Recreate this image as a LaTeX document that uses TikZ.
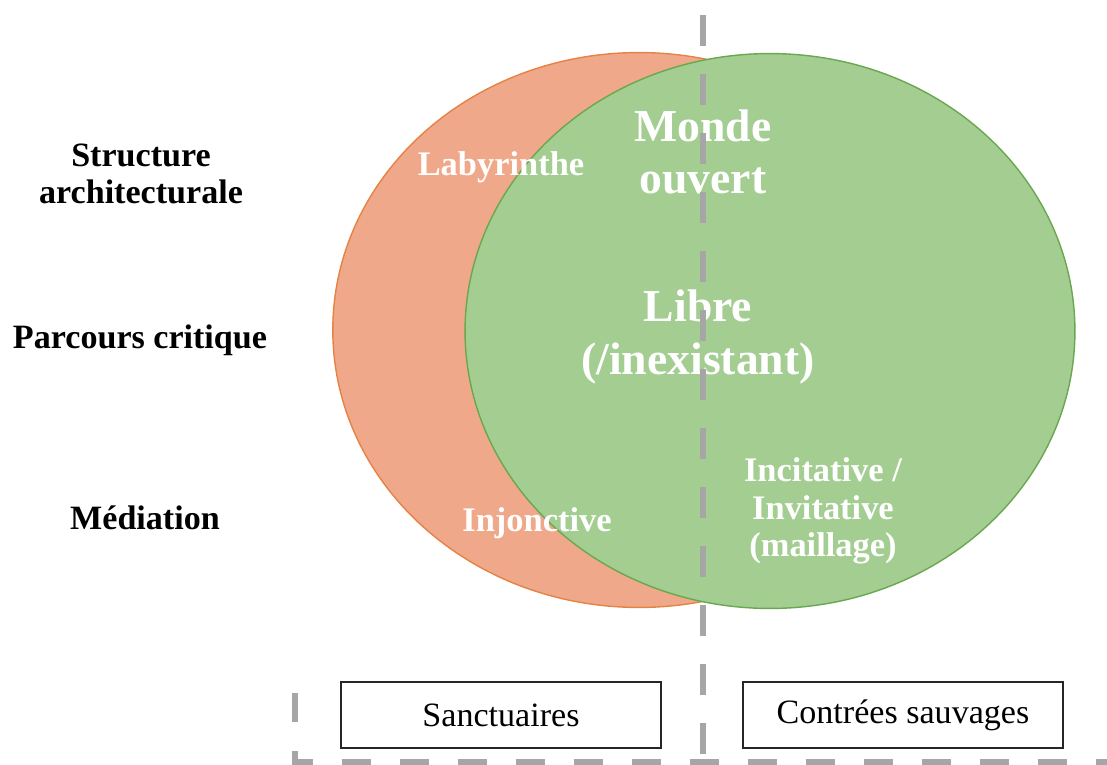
\documentclass[tikz,border=0pt]{standalone}
\usepackage{fontspec}
\setmainfont{Liberation Serif}
\usetikzlibrary{shapes.geometric, positioning}

\definecolor{salmon}{RGB}{239,169,138}
\definecolor{salmonline}{RGB}{229,130,68}
\definecolor{leaf}{RGB}{164,205,146}
\definecolor{leafline}{RGB}{106,168,79}
\definecolor{divgray}{RGB}{166,166,166}

\begin{document}
\begin{tikzpicture}[
  x=0.02cm, y=-0.02cm,
  set/.style={ellipse, draw, line width=0.8pt, inner sep=0pt, minimum width=12.25cm, minimum height=11.1cm},
  rowlabel/.style={align=center, font=\fontsize{19.4}{21.5}\selectfont\bfseries},
  inlabel/.style={align=center, text=white, font=\fontsize{19.6}{21.5}\selectfont\bfseries},
  biglabel/.style={align=center, text=white, font=\fontsize{26}{30}\selectfont\bfseries},
  zone/.style={rectangle, draw=black!85, line width=1pt, minimum width=6.4cm, minimum height=1.32cm, font=\fontsize{19.4}{21}\selectfont},
  divider/.style={draw=divgray, line width=0.12cm, dash pattern=on 0.62cm off 0.56cm}
]
  \useasboundingbox (0,0) rectangle (1107,765);

  \node[set, fill=salmon, draw=salmonline] (sanct) at (639,330) {};
  \node[set, fill=leaf, draw=leafline, minimum width=12.2cm] (wild) at (770,331) {};

  \node[rowlabel] (structure) at (141,174) {Structure\\architecturale};
  \node[rowlabel] (parcours) at (140,340) {Parcours critique};
  \node[rowlabel] (mediation) at (145,518) {Médiation};

  \node[inlabel] (laby) at (501,167) {Labyrinthe};
  \node[biglabel] (monde) at (703,152) {Monde\\ouvert};
  \node[biglabel] (libre) at (698,337) {Libre\\(/inexistant)};
  \node[inlabel] (injonc) at (537,523) {Injonctive};
  \node[inlabel] (incit) at (823,511) {Incitative /\\Invitative\\(maillage)};

  \node[zone] (sanctuaires) at (501,715) {Sanctuaires};
  \node[zone] (contrees) at (903,715) {Contrées sauvages};

  \coordinate (divtop) at (703,15);
  \coordinate (divbot) at (703,765);
  \coordinate (frameleft) at (295,693);
  \coordinate (framecorner) at (295,762);
  \coordinate (frameright) at (1107,762);

  \draw[divider] (divtop) -- (divbot);
  \draw[divider, dash pattern=on 0.58cm off 0.58cm] (frameleft) -- (framecorner) -- (frameright);

\end{tikzpicture}
\end{document}
